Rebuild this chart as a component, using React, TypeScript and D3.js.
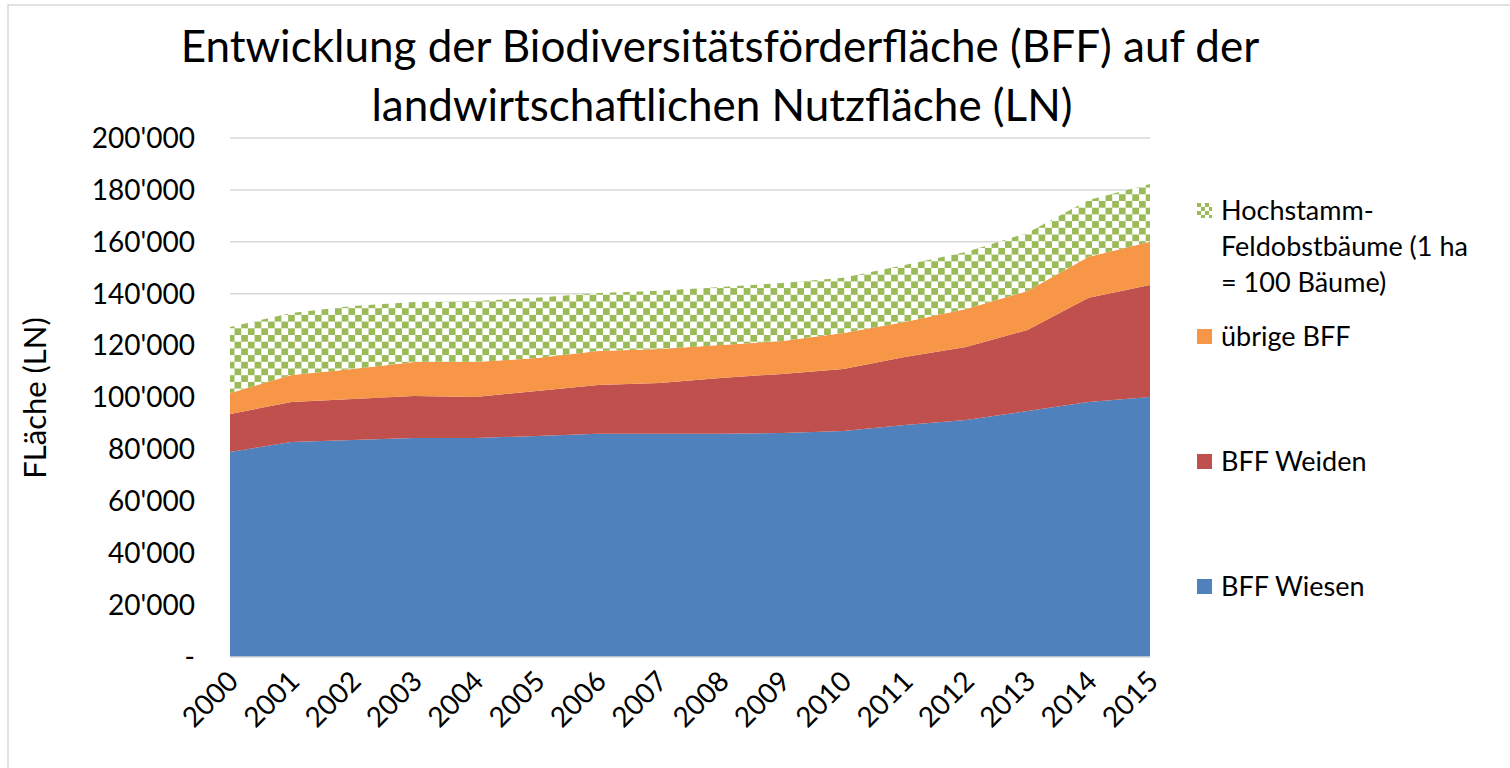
import React from "react";
import * as d3 from "d3";

const width = 1510;
const height = 768;
const margin = { top: 138, right: 360, bottom: 111, left: 230 };

const years = ["2000", "2001", "2002", "2003", "2004", "2005", "2006", "2007",
  "2008", "2009", "2010", "2011", "2012", "2013", "2014", "2015"];

// Flächen je Kategorie (ha)
const wiesen = [79000, 82900, 83600, 84400, 84400, 85200, 86000, 86000,
  86000, 86300, 87100, 89400, 91300, 94800, 98300, 100200];
const weiden = [14600, 15400, 15800, 16200, 15800, 17300, 18800, 19600,
  21500, 22800, 23900, 26200, 28200, 31200, 40100, 43200];
const uebrige = [8100, 10400, 11600, 13100, 13500, 12700, 13100, 13100,
  12700, 12700, 13900, 13500, 14600, 15000, 15800, 16600];
const hochstamm = [25500, 23900, 24300, 23100, 23500, 23200, 22400, 22400,
  22400, 22300, 21200, 22000, 22000, 22400, 21900, 22300];

const yTicks = [0, 20000, 40000, 60000, 80000, 100000, 120000, 140000, 160000, 180000, 200000];

const keys = ["wiesen", "weiden", "uebrige", "hochstamm"];
const colors: Record<string, string> = {
  wiesen: "#4F81BD",
  weiden: "#C0504D",
  uebrige: "#F79646",
  hochstamm: "url(#checker)",
};

const font = "Lato, 'Open Sans', sans-serif";

const fmt = (v: number) => (v === 0 ? "-" : d3.format(",")(v).replace(/,/g, "'"));

export default function App() {
  const rows = years.map((y, i) => ({
    year: y,
    wiesen: wiesen[i],
    weiden: weiden[i],
    uebrige: uebrige[i],
    hochstamm: hochstamm[i],
  }));

  const series = d3.stack<any>().keys(keys)(rows);

  const x = d3.scalePoint<string>()
    .domain(years)
    .range([margin.left, width - margin.right]);
  const y = d3.scaleLinear()
    .domain([0, 200000])
    .range([height - margin.bottom, margin.top]);

  const area = d3.area<any>()
    .x((d) => x(d.data.year) as number)
    .y0((d) => y(d[0]))
    .y1((d) => y(d[1]));

  const legend = [
    { key: "hochstamm", lines: ["Hochstamm-", "Feldobstbäume (1 ha", "= 100 Bäume)"], y: 211 },
    { key: "uebrige", lines: ["übrige BFF"], y: 337 },
    { key: "weiden", lines: ["BFF Weiden"], y: 462 },
    { key: "wiesen", lines: ["BFF Wiesen"], y: 587 },
  ];

  return (
    <svg width={width} height={height}
      style={{ position: "absolute", left: 0, top: 0, background: "#fff" }}
      fontFamily={font}>
      <defs>
        <pattern id="checker" width="13.4" height="13.4" patternUnits="userSpaceOnUse">
          <rect width="13.4" height="13.4" fill="#fff" />
          <rect width="6.7" height="6.7" fill="#9BBB59" />
          <rect x="6.7" y="6.7" width="6.7" height="6.7" fill="#9BBB59" />
        </pattern>
        <pattern id="checkerSmall" width="8" height="8" patternUnits="userSpaceOnUse" x="1197" y="203">
          <rect width="8" height="8" fill="#9BBB59" />
          <rect x="4" width="4" height="4" fill="#fff" />
          <rect y="4" width="4" height="4" fill="#fff" />
        </pattern>
      </defs>

      <rect x={8} y={5} width={1600} height={900} fill="#fff" stroke="#D9D9D9" strokeWidth={1.5} />

      <text x={720} y={62} textAnchor="middle" fontSize={44}>
        Entwicklung der Biodiversitätsförderfläche (BFF) auf der
      </text>
      <text x={722} y={121} textAnchor="middle" fontSize={44}>
        landwirtschaftlichen Nutzfläche (LN)
      </text>

      {yTicks.map((t) => (
        <g key={t}>
          {t > 0 && (
            <line x1={margin.left} x2={width - margin.right} y1={y(t)} y2={y(t)}
              stroke="#D9D9D9" strokeWidth={1.5} />
          )}
          <text x={195} y={y(t)} dy="0.35em" textAnchor="end" fontSize={28}>
            {fmt(t)}
          </text>
        </g>
      ))}

      {series.map((s) => (
        <path key={s.key} d={area(s) as string} fill={colors[s.key]} />
      ))}

      <line x1={margin.left} x2={width - margin.right}
        y1={y(0)} y2={y(0)} stroke="#D9D9D9" strokeWidth={1.5} />

      {years.map((yr) => (
        <text key={yr} textAnchor="end" fontSize={28}
          transform={`translate(${(x(yr) as number) + 10},${y(0) + 26}) rotate(-45)`}>
          {yr}
        </text>
      ))}

      <text transform={`translate(46,398) rotate(-90)`}
        textAnchor="middle" fontSize={31}>
        FLäche (LN)
      </text>

      {legend.map((l) => (
        <g key={l.key}>
          <rect x={1197} y={l.y - 8} width={15} height={15}
            fill={l.key === "hochstamm" ? "url(#checkerSmall)" : colors[l.key]} />
          {l.lines.map((ln, i) => (
            <text key={i} x={1221} y={l.y + i * 36} dy="0.35em" fontSize={27}>
              {ln}
            </text>
          ))}
        </g>
      ))}
    </svg>
  );
}
